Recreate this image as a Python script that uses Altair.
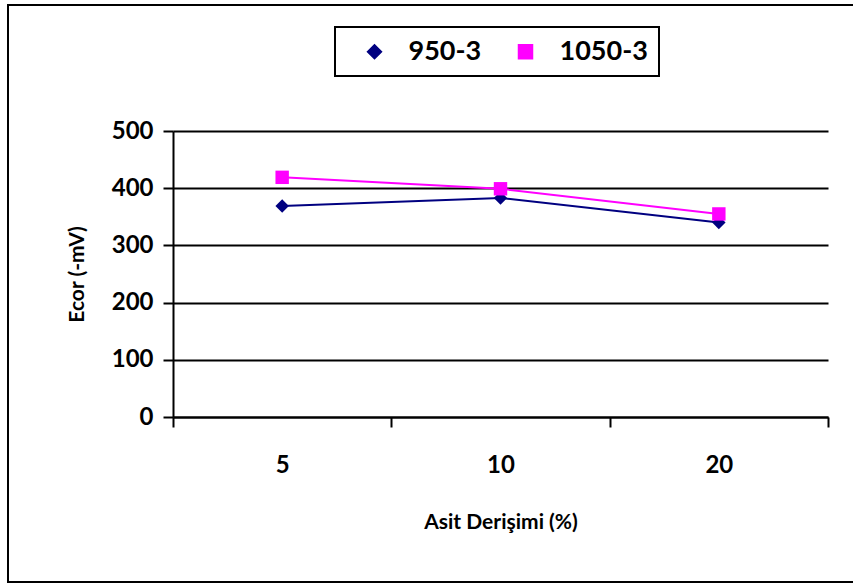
import altair as alt
import pandas as pd

categories = ["5", "10", "20"]
series_names = ["950-3", "1050-3"]
values_950 = [369, 383, 340]
values_1050 = [419, 399, 355]
colors = ["#000080", "#FF00FF"]

rows = []
for c, v in zip(categories, values_950):
    rows.append({"cat": c, "series": "950-3", "val": v})
for c, v in zip(categories, values_1050):
    rows.append({"cat": c, "series": "1050-3", "val": v})
df = pd.DataFrame(rows)

FONT = "Lato"

x_enc = alt.X(
    "cat:N",
    sort=categories,
    scale=alt.Scale(domain=categories, paddingInner=0, paddingOuter=0),
    axis=alt.Axis(
        title="Asit Derişimi (%)",
        tickBand="extent",
        labelAngle=0,
        labelFont=FONT, labelFontWeight="bold", labelFontSize=24, labelColor="black",
        labelPadding=26,
        tickSize=10, tickWidth=2, tickColor="black",
        domainColor="black", domainWidth=2,
        grid=False,
        titleFont=FONT, titleFontWeight="bold", titleFontSize=21, titleColor="black",
        titleY=105, titleBaseline="middle",
    ),
)
y_enc = alt.Y(
    "val:Q",
    scale=alt.Scale(domain=[0, 500]),
    axis=alt.Axis(
        title="Ecor (-mV)",
        values=[0, 100, 200, 300, 400, 500],
        labelFont=FONT, labelFontWeight="bold", labelFontSize=24, labelColor="black",
        labelPadding=10,
        tickSize=10, tickWidth=2, tickColor="black",
        domainColor="black", domainWidth=2,
        grid=True, gridColor="black", gridWidth=2,
        titleFont=FONT, titleFontWeight="bold", titleFontSize=21, titleColor="black",
        titleX=-96, titleY=143, titleAngle=270, titleAlign="center", titleBaseline="middle",
    ),
)

legend_def = alt.Legend(
    title=None,
    orient="none",
    direction="horizontal",
    legendX=162,
    legendY=-104,
    strokeColor="black",
    fillColor="white",
    padding=11,
    symbolSize=196,
    symbolOffset=15,
    labelOffset=20.5,
    labelFont=FONT, labelFontWeight="bold", labelFontSize=27, labelColor="black",
    columnPadding=15,
)

color_enc = alt.Color("series:N", scale=alt.Scale(domain=series_names, range=colors), legend=legend_def)
shape_enc = alt.Shape("series:N", scale=alt.Scale(domain=series_names, range=["diamond", "square"]), legend=legend_def)

base = alt.Chart(df)

lines = base.mark_line(strokeWidth=2).encode(x=x_enc, y=y_enc, color=color_enc, detail="series:N")

pts = base.mark_point(filled=True, size=180, opacity=1).encode(
    x=x_enc, y=y_enc, color=color_enc, shape=shape_enc
)

border = alt.Chart(pd.DataFrame({"k": [0]})).mark_rect(
    fill=None, stroke="black", strokeWidth=2, clip=False
).encode(
    x=alt.value(-165), x2=alt.value(700), y=alt.value(-126), y2=alt.value(451)
)

chart = alt.layer(border, lines, pts).properties(
    width=655,
    height=286,
    padding={"left": 173, "top": 131, "right": 25, "bottom": 166},
    autosize=alt.AutoSizeParams(type="none"),
    background="white",
).configure_view(stroke=None).configure_legend(strokeWidth=2)

chart.save("out.html", embed_options={"renderer": "svg", "actions": False})
